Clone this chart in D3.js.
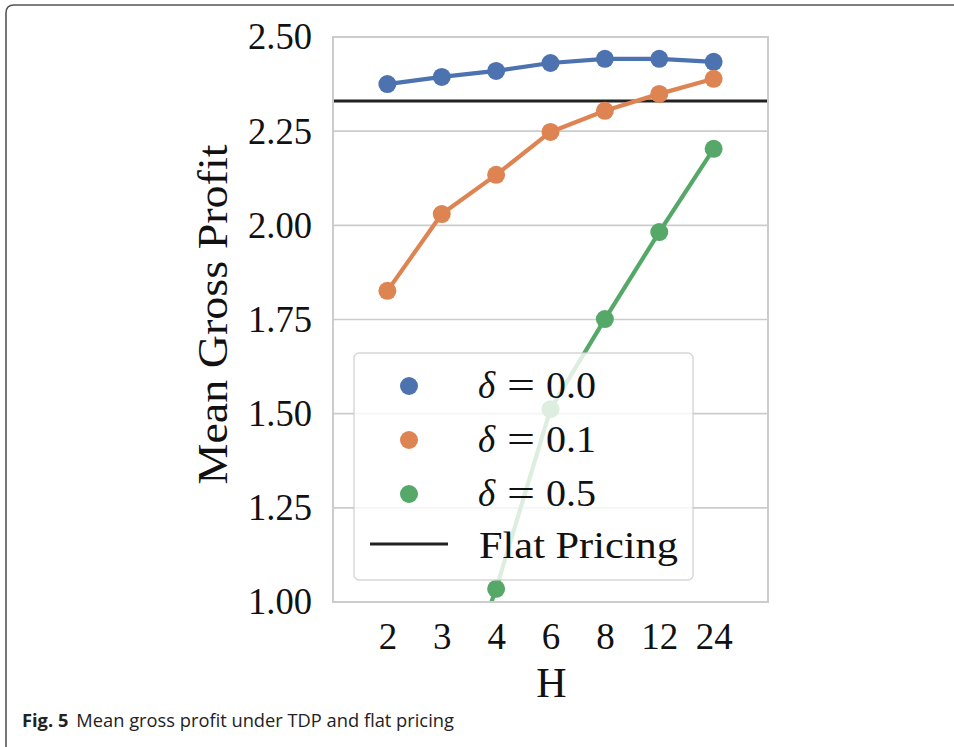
<!DOCTYPE html>
<html><head><meta charset="utf-8">
<script src="https://cdn.jsdelivr.net/npm/d3@7"></script>
<style>body{margin:0;background:#fff}svg{display:block}</style>
</head><body>
<script>
const categories = ["2","3","4","6","8","12","24"];
const yTicks = [1.00,1.25,1.50,1.75,2.00,2.25,2.50];
const delta00 = [2.375,2.394,2.410,2.431,2.442,2.442,2.434];
const delta01 = [1.826,2.030,2.134,2.248,2.304,2.349,2.389];
const delta05 = [0.25,0.63,1.035,1.512,1.751,1.982,2.203];
const flatPricing = 2.330;
const seriesNames = ["0.0","0.1","0.5"];
const colors = ["#4c72b0","#dd8452","#55a868"];

const W=954,H=747;
const svg=d3.select("body").append("svg").attr("width",W).attr("height",H);
// frame
svg.append("path").attr("d","M6,747 L6,13 Q6,5 14,5 L954,5").attr("fill","none").attr("stroke","#555").attr("stroke-width",1.6);

const m={l:333,r:768,t:37,b:602};
const x=d3.scalePoint().domain(categories).range([m.l,m.r]).padding(1);
const y=d3.scaleLinear().domain([1,2.5]).range([m.b,m.t]);
const serif="'Liberation Serif','DejaVu Serif',serif";

// grid
svg.append("g").selectAll("line").data(yTicks).join("line")
 .attr("x1",m.l).attr("x2",m.r).attr("y1",d=>y(d)).attr("y2",d=>y(d))
 .attr("stroke","#cccccc").attr("stroke-width",1.6);

svg.append("clipPath").attr("id","c").append("rect").attr("x",m.l).attr("y",m.t).attr("width",m.r-m.l).attr("height",m.b-m.t);
const g=svg.append("g").attr("clip-path","url(#c)");
// flat pricing
g.append("line").attr("x1",m.l).attr("x2",m.r).attr("y1",y(flatPricing)).attr("y2",y(flatPricing)).attr("stroke","#222").attr("stroke-width",3);
const all=[delta00,delta01,delta05];
const line=d3.line().x((d,i)=>x(categories[i])).y(d=>y(d));
all.forEach((s,k)=>{
  g.append("path").attr("d",line(s)).attr("fill","none").attr("stroke",colors[k]).attr("stroke-width",4.2).attr("stroke-linejoin","round");
  g.selectAll(null).data(s).join("circle").attr("cx",(d,i)=>x(categories[i])).attr("cy",d=>y(d)).attr("r",9).attr("fill",colors[k]);
});
// spines
svg.append("rect").attr("x",m.l).attr("y",m.t).attr("width",m.r-m.l).attr("height",m.b-m.t).attr("fill","none").attr("stroke","#cccccc").attr("stroke-width",2);

// axes
const ya=svg.append("g").attr("transform",`translate(${m.l},0)`).call(d3.axisLeft(y).tickValues(yTicks).tickFormat(d3.format(".2f")).tickSize(0).tickPadding(21));
const xa=svg.append("g").attr("transform",`translate(0,${m.b})`).call(d3.axisBottom(x).tickSize(0).tickPadding(21));
[ya,xa].forEach(a=>{a.select(".domain").remove();a.selectAll("text").attr("font-family",serif).attr("font-size",37).attr("fill","#111");});
ya.selectAll("text").attr("textLength",64).attr("lengthAdjust","spacingAndGlyphs");
xa.selectAll("text").attr("dy","0.71em");
svg.append("text").attr("x",(m.l+m.r)/2+1).attr("y",697).attr("text-anchor","middle").attr("font-family",serif).attr("font-size",42).attr("fill","#111").text("H");
svg.append("text").attr("transform",`translate(227,${(m.t+m.b)/2-5}) rotate(-90)`).attr("text-anchor","middle").attr("font-family",serif).attr("font-size",42).attr("fill","#111")
  .attr("textLength",340).attr("lengthAdjust","spacingAndGlyphs").text("Mean Gross Profit");

// legend
const lg=svg.append("g");
lg.append("rect").attr("x",354).attr("y",353).attr("width",339).attr("height",227).attr("rx",5).attr("fill","#fff").attr("fill-opacity",0.8).attr("stroke","#cccccc").attr("stroke-width",1.4).attr("stroke-opacity",0.8);
const rows=[386,440,494];
seriesNames.forEach((n,k)=>{
  lg.append("circle").attr("cx",409).attr("cy",rows[k]).attr("r",9).attr("fill",colors[k]);
  const by=rows[k]+12;
  lg.append("text").attr("x",478).attr("y",by).attr("font-family",serif).attr("font-size",37).attr("font-style","italic").attr("fill","#111").text("δ");
  lg.append("text").attr("x",507).attr("y",by).attr("font-family",serif).attr("font-size",37).attr("fill","#111").attr("textLength",28).attr("lengthAdjust","spacingAndGlyphs").text("=");
  lg.append("text").attr("x",546).attr("y",by).attr("font-family",serif).attr("font-size",37).attr("fill","#111").attr("textLength",50).attr("lengthAdjust","spacingAndGlyphs").text(n);
});
lg.append("line").attr("x1",370).attr("x2",448).attr("y1",544).attr("y2",544).attr("stroke","#222").attr("stroke-width",3);
lg.append("text").attr("x",479).attr("y",558).attr("font-family",serif).attr("font-size",37).attr("fill","#111").attr("textLength",199).attr("lengthAdjust","spacingAndGlyphs").text("Flat Pricing");

// caption
const cap=svg.append("text").attr("x",22).attr("y",727).attr("font-family","'Open Sans','Noto Sans',sans-serif").attr("font-size",18.3).attr("fill","#222");
cap.append("tspan").attr("font-weight","bold").text("Fig. 5");
cap.append("tspan").attr("dx",8).text("Mean gross profit under TDP and flat pricing");
</script>
</body></html>
